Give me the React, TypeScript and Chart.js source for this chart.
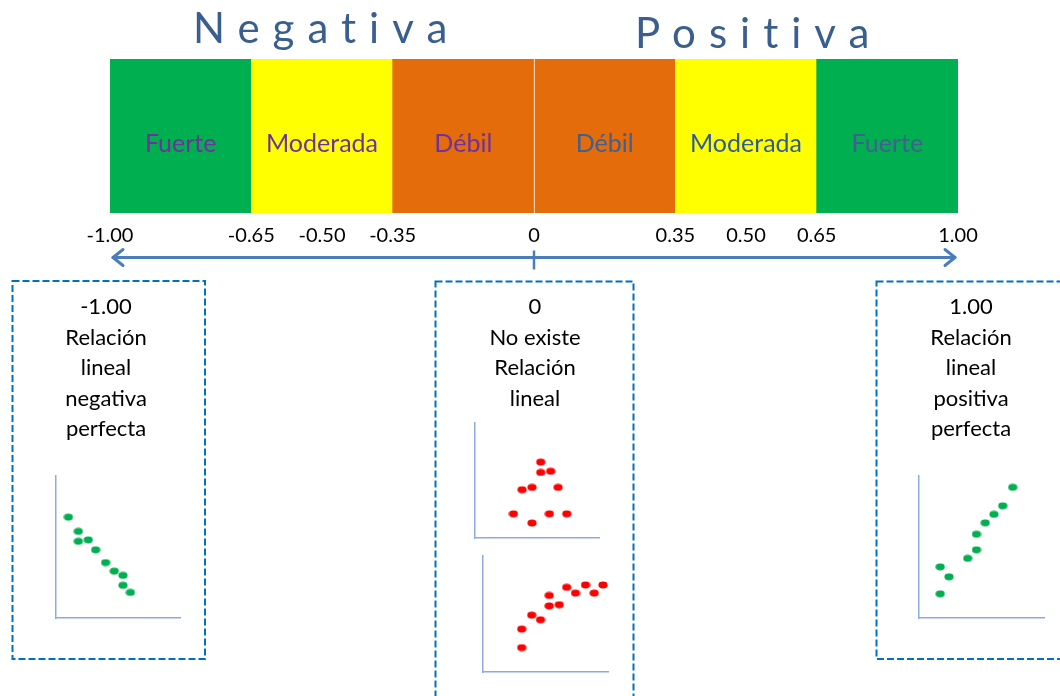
import React, { useEffect, useRef } from "react";
import { Chart, registerables } from "chart.js";

Chart.register(...registerables);

// ---------------- data ----------------
const bandEdges = [-1, -0.65, -0.35, 0, 0.35, 0.65, 1];
const bandNames = ["Fuerte", "Moderada", "Débil", "Débil", "Moderada", "Fuerte"];
const tickValues = [-1, -0.65, -0.5, -0.35, 0, 0.35, 0.5, 0.65, 1];
const tickLabels = ["-1.00", "-0.65", "-0.50", "-0.35", "0", "0.35", "0.50", "0.65", "1.00"];
const sideTitles = ["Negativa", "Positiva"];

const negX = [1.0, 1.8, 1.8, 2.6, 3.2, 4.0, 4.7, 5.4, 5.4, 6.0];
const negY = [7.1, 6.1, 5.4, 5.5, 4.8, 3.9, 3.3, 3.0, 2.3, 1.8];
const noneX = [5.3, 5.3, 6.1, 3.8, 4.6, 6.7, 3.1, 4.6, 6.0, 7.4];
const noneY = [6.6, 5.7, 5.8, 4.2, 4.4, 4.4, 2.1, 1.3, 2.1, 2.1];
const curveX = [3.1, 3.1, 3.9, 4.6, 5.3, 5.3, 6.1, 6.7, 7.4, 8.2, 8.9, 9.6];
const curveY = [2.1, 3.7, 4.9, 4.5, 5.7, 6.6, 5.8, 7.3, 6.8, 7.5, 6.8, 7.5];
const posX = [1.7, 1.7, 2.4, 3.9, 4.6, 4.6, 5.3, 6.0, 6.7, 7.5];
const posY = [1.7, 3.6, 2.9, 4.2, 4.8, 5.9, 6.7, 7.3, 7.9, 9.2];

const boxLeftText = ["-1.00", "Relación", "lineal", "negativa", "perfecta"];
const boxMidText = ["0", "No existe", "Relación", "lineal"];
const boxRightText = ["1.00", "Relación", "lineal", "positiva", "perfecta"];

// ---------------- styles ----------------
const FONT = "Lato, 'Open Sans', sans-serif";
const bandColors = ["#00B050", "#FFFF00", "#E46C0A", "#E46C0A", "#FFFF00", "#00B050"];
const bandTextColors = ["#7030A0", "#7030A0", "#7030A0", "#41608F", "#2F5C99", "#41608F"];
const titleColor = "#3A5F8F";
const arrowColor = "#4A7EBB";
const miniAxisColor = "#8FAADC";
const boxColor = "#0070C0";

function toBand(r: number): number {
  for (let i = 0; i < bandEdges.length - 1; i++) {
    if (r <= bandEdges[i + 1] || i === bandEdges.length - 2) {
      return i + (r - bandEdges[i]) / (bandEdges[i + 1] - bandEdges[i]);
    }
  }
  return 0;
}

const bandDecor = {
  id: "bandDecor",
  afterDatasetsDraw(chart: any) {
    const ctx = chart.ctx;
    const meta = chart.getDatasetMeta(0);
    ctx.save();
    ctx.font = `25px ${FONT}`;
    ctx.textAlign = "center";
    ctx.textBaseline = "alphabetic";
    meta.data.forEach((bar: any, i: number) => {
      const p = bar.getProps(["x", "y", "base"], true);
      ctx.fillStyle = bandTextColors[i];
      ctx.fillText(bandNames[i], (p.x + p.base) / 2, p.y + 16);
    });
    ctx.restore();
  },
  afterDraw(chart: any) {
    const ctx = chart.ctx;
    const xs = chart.scales.x;
    const x0 = xs.getPixelForValue(toBand(-1)) + 3;
    const x1 = xs.getPixelForValue(toBand(1)) - 3;
    const xm = xs.getPixelForValue(toBand(0));
    const y = chart.chartArea.bottom + 44.5;
    ctx.save();
    ctx.strokeStyle = arrowColor;
    ctx.lineWidth = 3;
    ctx.lineCap = "round";
    ctx.lineJoin = "round";
    ctx.beginPath();
    ctx.moveTo(x0, y);
    ctx.lineTo(x1, y);
    ctx.stroke();
    ctx.beginPath();
    ctx.moveTo(x0 + 10, y - 8);
    ctx.lineTo(x0, y);
    ctx.lineTo(x0 + 10, y + 8);
    ctx.stroke();
    ctx.beginPath();
    ctx.moveTo(x1 - 10, y - 8);
    ctx.lineTo(x1, y);
    ctx.lineTo(x1 - 10, y + 8);
    ctx.stroke();
    ctx.lineWidth = 2.5;
    ctx.lineCap = "butt";
    ctx.beginPath();
    ctx.moveTo(xm, y - 7);
    ctx.lineTo(xm, y + 12);
    ctx.stroke();
    ctx.restore();
  },
};

function BandChart() {
  const ref = useRef<HTMLCanvasElement>(null);
  useEffect(() => {
    const chart = new Chart(ref.current as HTMLCanvasElement, {
      type: "bar",
      data: {
        labels: ["r"],
        datasets: [
          {
            data: bandNames.map((_, i) => ({
              y: "r",
              x: [toBand(bandEdges[i]), toBand(bandEdges[i + 1])],
            })) as any,
            backgroundColor: bandColors,
            borderColor: "#FFFFFF",
            borderWidth: ((c: any) =>
              c.dataIndex === 3 ? { left: 1, right: 0, top: 0, bottom: 0 } : 0) as any,
            borderSkipped: false,
            barPercentage: 1,
            categoryPercentage: 1,
          },
        ],
      },
      options: {
        indexAxis: "y",
        responsive: false,
        animation: false,
        events: [],
        layout: { padding: { left: 110, right: 102, top: 59, bottom: 21 } },
        plugins: { legend: { display: false }, tooltip: { enabled: false } },
        scales: {
          x: {
            type: "linear",
            min: 0,
            max: 6,
            afterBuildTicks: (s: any) => {
              s.ticks = tickValues.map((v) => ({ value: toBand(v) }));
            },
            ticks: {
              autoSkip: false,
              maxRotation: 0,
              padding: 11,
              color: "#000000",
              font: { family: FONT, size: 20 },
              callback: (_v: any, i: number) => tickLabels[i],
            },
            grid: { display: false, drawTicks: false },
            border: { display: false },
          },
          y: { type: "category", display: false },
        },
      } as any,
      plugins: [bandDecor],
    });
    return () => chart.destroy();
  }, []);
  return (
    <canvas
      ref={ref}
      width={1060}
      height={280}
      style={{ position: "absolute", left: 0, top: 0, display: "block" }}
    />
  );
}

function makeDot(color: string) {
  const c = document.createElement("canvas");
  c.width = 10;
  c.height = 8;
  const g = c.getContext("2d") as CanvasRenderingContext2D;
  g.fillStyle = color;
  g.beginPath();
  g.ellipse(5, 4, 4.6, 3.4, 0, 0, Math.PI * 2);
  g.fill();
  return c;
}

const miniAxis = {
  type: "linear",
  min: 0,
  max: 10,
  ticks: { display: false },
  grid: { display: false, drawTicks: false },
  border: { display: true, color: miniAxisColor, width: 1.5 },
};

function MiniScatter(props: {
  xs: number[];
  ys: number[];
  color: string;
  left: number;
  top: number;
  width: number;
  height: number;
}) {
  const { xs, ys, color, left, top, width, height } = props;
  const ref = useRef<HTMLCanvasElement>(null);
  const pad = 6;
  useEffect(() => {
    const chart = new Chart(ref.current as HTMLCanvasElement, {
      type: "scatter",
      data: {
        datasets: [
          {
            data: xs.map((x, i) => ({ x, y: ys[i] })),
            pointStyle: makeDot(color) as any,
            pointRadius: 5,
            backgroundColor: color,
            borderWidth: 0,
          },
        ],
      },
      options: {
        responsive: false,
        animation: false,
        events: [],
        layout: { padding: pad },
        plugins: { legend: { display: false }, tooltip: { enabled: false } },
        scales: { x: { ...miniAxis, position: "bottom" }, y: { ...miniAxis, position: "left" } },
      } as any,
    });
    return () => chart.destroy();
  }, []);
  return (
    <canvas
      ref={ref}
      width={width + pad * 2}
      height={height + pad * 2}
      style={{ position: "absolute", left: left - pad, top: top - pad, display: "block" }}
    />
  );
}

function BoxText({ lines, cx }: { lines: string[]; cx: number }) {
  return (
    <div
      style={{
        position: "absolute",
        left: cx - 100,
        top: 291,
        width: 200,
        textAlign: "center",
        font: `22px ${FONT}`,
        lineHeight: "30.5px",
        color: "#000000",
      }}
    >
      {lines.map((l, i) => (
        <div key={i}>{l}</div>
      ))}
    </div>
  );
}

export default function App() {
  const titleStyle: React.CSSProperties = {
    position: "absolute",
    font: `42px ${FONT}`,
    lineHeight: "42px",
    letterSpacing: "13px",
    color: titleColor,
    whiteSpace: "nowrap",
  };
  return (
    <div
      style={{
        position: "fixed",
        left: 0,
        top: 0,
        width: 1060,
        height: 696,
        overflow: "hidden",
        background: "#FFFFFF",
        fontFamily: FONT,
      }}
    >
      <BandChart />
      <div style={{ ...titleStyle, left: 193, top: 6 }}>{sideTitles[0]}</div>
      <div style={{ ...titleStyle, left: 635, top: 11 }}>{sideTitles[1]}</div>

      <svg
        width={1060}
        height={696}
        style={{ position: "absolute", left: 0, top: 0, pointerEvents: "none" }}
      >
        <g fill="none" stroke={boxColor} strokeWidth={2} strokeDasharray="7 3">
          <rect x={12.5} y={281} width={192.5} height={378} />
          <rect x={435.5} y={281.5} width={198} height={430} />
          <rect x={876.5} y={281.5} width={200} height={377.5} />
        </g>
      </svg>

      <BoxText lines={boxLeftText} cx={106} />
      <BoxText lines={boxMidText} cx={535} />
      <BoxText lines={boxRightText} cx={971} />

      <MiniScatter xs={negX} ys={negY} color="#00B050" left={56} top={476} width={124} height={142} />
      <MiniScatter xs={noneX} ys={noneY} color="#FF0000" left={475} top={423} width={124} height={115} />
      <MiniScatter xs={curveX} ys={curveY} color="#FF0000" left={483} top={556} width={125} height={116} />
      <MiniScatter xs={posX} ys={posY} color="#00B050" left={919} top={476} width={125} height={142} />
    </div>
  );
}
